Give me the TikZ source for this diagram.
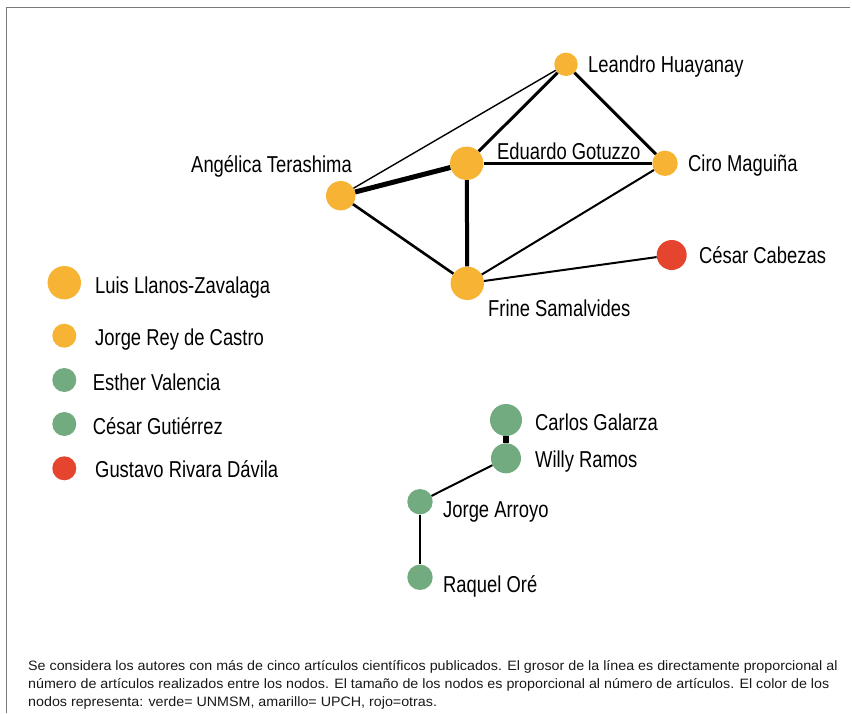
\documentclass[tikz,border=0pt]{standalone}
\usepackage{fontspec}
\setmainfont{Liberation Sans}
\newfontfamily\labelfont[FakeStretch=0.80]{Liberation Sans}
\newfontfamily\captionfont[FakeStretch=1.05]{Liberation Sans}
\definecolor{upch}{HTML}{F7B334}
\definecolor{unmsm}{HTML}{72AB7F}
\definecolor{otras}{HTML}{E5452F}
\definecolor{frame}{HTML}{7A7A7A}
\begin{document}
\begin{tikzpicture}[x=1pt,y=-1pt,
  dot/.style={circle,inner sep=0pt,draw=none},
  lab/.style={anchor=base west,inner sep=0pt,font=\labelfont\fontsize{23}{25}\selectfont,text=black},
  captext/.style={anchor=base west,inner sep=0pt,font=\captionfont\fontsize{13.6}{16}\selectfont,text=black!90},
  link/.style={draw=black,line cap=butt}]
\useasboundingbox (0,0) rectangle (852,713);
\draw[frame,line width=1.6pt] (6.5,713) -- (6.5,7.5) -- (850,7.5);

% network nodes
\node[dot,fill=upch,minimum size=23.4pt] (leandro) at (566,64.3) {};
\node[dot,fill=upch,minimum size=25.4pt] (ciro) at (665,163.3) {};
\node[dot,fill=upch,minimum size=33.4pt] (eduardo) at (466.7,163.3) {};
\node[dot,fill=upch,minimum size=29.4pt] (angelica) at (340.7,195.7) {};
\node[dot,fill=upch,minimum size=33.4pt] (frine) at (467.3,283.3) {};
\node[dot,fill=otras,minimum size=30pt] (cabezas) at (671.7,255) {};
\node[dot,fill=unmsm,minimum size=32pt] (galarza) at (506,420) {};
\node[dot,fill=unmsm,minimum size=30pt] (willy) at (506,458.3) {};
\node[dot,fill=unmsm,minimum size=25.4pt] (arroyo) at (420,501.7) {};
\node[dot,fill=unmsm,minimum size=25.4pt] (raquel) at (420,577.3) {};

% links
\draw[link,line width=1.4pt] (angelica) -- (leandro);
\draw[link,line width=5pt] (angelica) -- (eduardo);
\draw[link,line width=2.6pt] (angelica) -- (frine);
\draw[link,line width=3pt] (eduardo) -- (leandro);
\draw[link,line width=3pt] (leandro) -- (ciro);
\draw[link,line width=3pt] (eduardo) -- (ciro);
\draw[link,line width=4pt] (eduardo) -- (frine);
\draw[link,line width=2pt] (frine) -- (ciro);
\draw[link,line width=2pt] (frine) -- (cabezas);
\draw[link,line width=6.6pt] (galarza) -- (willy);
\draw[link,line width=2pt] (willy) -- (arroyo);
\draw[link,line width=1.8pt] (arroyo) -- (raquel);

% network labels
\node[lab] (l-leandro) at (588,72) {Leandro Huayanay};
\node[lab] (l-ciro) at (688,171) {Ciro Maguiña};
\node[lab] (l-eduardo) at (497,159.5) {Eduardo Gotuzzo};
\node[lab,anchor=base east] (l-angelica) at (352,172) {Angélica Terashima};
\node[lab] (l-frine) at (488,316) {Frine Samalvides};
\node[lab] (l-cabezas) at (699,263) {César Cabezas};
\node[lab] (l-galarza) at (535,430) {Carlos Galarza};
\node[lab] (l-willy) at (535,467) {Willy Ramos};
\node[lab] (l-arroyo) at (443,517) {Jorge Arroyo};
\node[lab] (l-raquel) at (443,592) {Raquel Oré};

% isolated nodes
\node[dot,fill=upch,minimum size=33.4pt] (llanos) at (64.3,282.7) {};
\node[dot,fill=upch,minimum size=24pt] (rey) at (64.3,335.7) {};
\node[dot,fill=unmsm,minimum size=24pt] (esther) at (64.3,380) {};
\node[dot,fill=unmsm,minimum size=24pt] (gutierrez) at (64.3,424) {};
\node[dot,fill=otras,minimum size=24pt] (rivara) at (64.3,468.3) {};
\node[lab] (l-llanos) at (95,293) {Luis Llanos-Zavalaga};
\node[lab] (l-rey) at (95,345) {Jorge Rey de Castro};
\node[lab] (l-esther) at (92.7,390) {Esther Valencia};
\node[lab] (l-gutierrez) at (92.7,434) {César Gutiérrez};
\node[lab] (l-rivara) at (95,477) {Gustavo Rivara Dávila};

% caption
\node[captext] (cap1) at (28,670) {Se considera los autores con más de cinco artículos científicos publicados. El grosor de la línea es directamente proporcional al};
\node[captext] (cap2) at (28,688) {número de artículos realizados entre los nodos. El tamaño de los nodos es proporcional al número de artículos. El color de los};
\node[captext] (cap3) at (28,706) {nodos representa: verde= UNMSM, amarillo= UPCH, rojo=otras.};
\end{tikzpicture}
\end{document}
